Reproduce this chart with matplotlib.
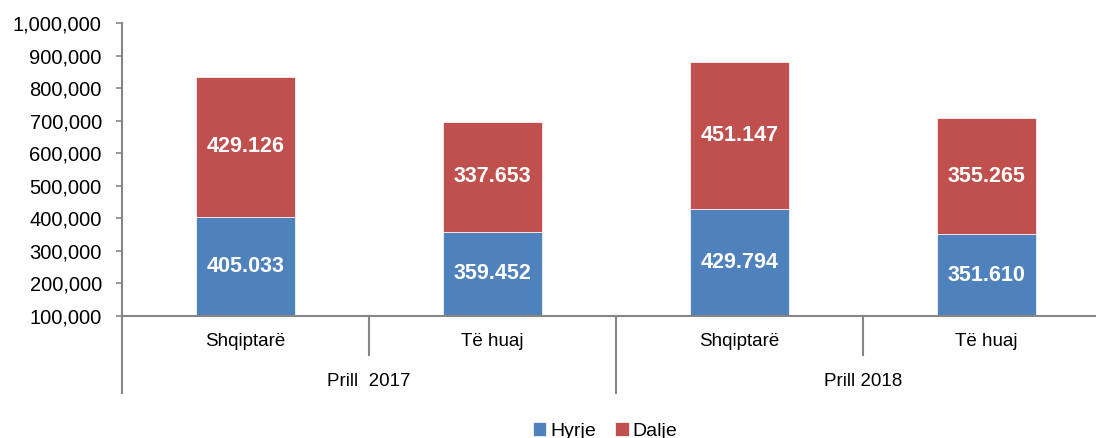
import matplotlib
matplotlib.use('Agg')
import matplotlib.pyplot as plt
from matplotlib import ticker
import matplotlib.transforms as mtransforms

plt.rcParams['font.family'] = ['Liberation Sans', 'DejaVu Sans']

categories = ["Shqiptarë", "Të huaj", "Shqiptarë", "Të huaj"]
groups = ["Prill  2017", "Prill 2018"]
hyrje = [405033, 359452, 429794, 351610]
dalje = [429126, 337653, 451147, 355265]

blue = '#4F81BD'
red = '#C0504D'
gray = '#868686'

fig = plt.figure(figsize=(10.96, 4.38), dpi=100)
W, H = 1096.0, 438.0
ax = fig.add_axes([122 / W, 1 - 316 / H, 988 / W, 293 / H])

x = list(range(len(categories)))
bw = 0.4
ax.bar(x, hyrje, width=bw, color=blue, label='Hyrje', edgecolor='white', linewidth=0.5)
ax.bar(x, dalje, width=bw, bottom=hyrje, color=red, label='Dalje', edgecolor='white', linewidth=0.5)

ymin, ymax = 100000, 1000000
ax.set_ylim(ymin, ymax)
ax.set_xlim(-0.5, len(categories) - 0.5)

def fmt(v):
    return f"{v:,}".replace(',', '.')

# labels in the middle of the visible part of each segment
for i in x:
    b0 = max(0, ymin)
    t0 = hyrje[i]
    ax.text(i, (b0 + t0) / 2, fmt(hyrje[i]), ha='center', va='center',
            color='white', fontsize=15.5, fontweight='bold')
    t1 = hyrje[i] + dalje[i]
    ax.text(i, (t0 + t1) / 2, fmt(dalje[i]), ha='center', va='center',
            color='white', fontsize=15.5, fontweight='bold')

ax.yaxis.set_major_locator(ticker.MultipleLocator(100000))
ax.yaxis.set_major_formatter(ticker.FuncFormatter(lambda v, p: f"{int(v):,}"))
ax.tick_params(axis='y', length=4.5, width=1.2, color=gray, labelsize=14.5, pad=10)

ax.set_xticks(x)
ax.set_xticklabels(categories, fontsize=13.5)
ax.tick_params(axis='x', length=0, pad=12)

for s in ['top', 'right']:
    ax.spines[s].set_visible(False)
for s in ['left', 'bottom']:
    ax.spines[s].set_color(gray)
    ax.spines[s].set_linewidth(1.5)

# multi-level category separators
trans = mtransforms.blended_transform_factory(ax.transData, ax.transAxes)
short_y = -39 / 293.0
long_y = -77 / 293.0
for k in range(len(categories) + 1):
    xb = k - 0.5
    y_end = long_y if k % 2 == 0 else short_y
    ax.plot([xb, xb], [0, y_end], transform=trans, color=gray, lw=1.5, clip_on=False)

for g, name in enumerate(groups):
    ax.text(2 * g + 0.5, -66 / 293.0, name, transform=trans, ha='center', va='center', fontsize=13.5)

fig.legend(loc='center', bbox_to_anchor=(605 / W, 1 - 431 / H), ncol=2, frameon=False,
           fontsize=14, handlelength=0.7, handleheight=0.7, handletextpad=0.2, columnspacing=1.0)

fig.savefig('out.png', dpi=100)
